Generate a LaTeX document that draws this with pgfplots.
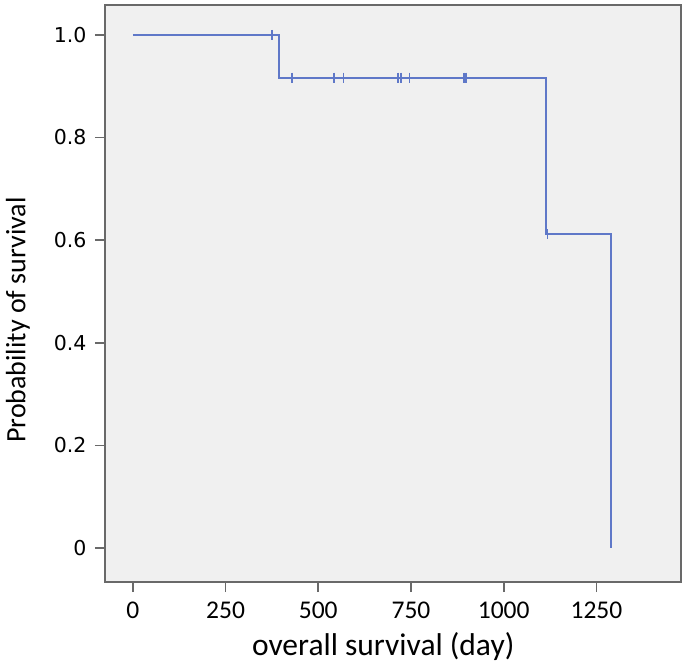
\documentclass[border=0pt]{standalone}
\usepackage{fontspec}
\setmainfont{Carlito}
\newfontfamily\dejavu{DejaVu Sans}
\usepackage{pgfplots}
\pgfplotsset{compat=1.18}
\definecolor{bg}{RGB}{240,240,240}
\definecolor{km}{RGB}{95,120,200}
\definecolor{frame}{RGB}{105,105,105}
\begin{document}
\begin{tikzpicture}
\begin{axis}[
  scale only axis,
  width=576pt, height=577pt,
  xmin=-75, xmax=1478,
  ymin=-0.066, ymax=1.058,
  axis background/.style={fill=bg},
  axis line style={frame, line width=1.6pt},
  xtick={0,250,500,750,1000,1250},
  xticklabels={0,250,500,750,1000,1250},
  ytick={0,0.2,0.4,0.6,0.8,1.0},
  yticklabels={0,0.2,0.4,0.6,0.8,1.0},
  xtick pos=bottom, ytick pos=left,
  tick align=outside,
  major tick length=10pt,
  tick style={frame, line width=1.6pt},
  x tick label style={font=\fontsize{25.5}{25.5}\selectfont, yshift=-6.5pt},
  y tick label style={font=\dejavu\fontsize{20.5}{20.5}\selectfont, xshift=-5pt},
  xlabel={overall survival (day)},
  ylabel={Probability of survival},
  xlabel style={font=\fontsize{31.5}{31.5}\selectfont, at={(axis description cs:0.483,-0.128)}, anchor=base, inner sep=0pt},
  ylabel style={font=\fontsize{28}{28}\selectfont, at={(axis description cs:-0.13,0.454)}, anchor=south, inner sep=0pt},
  clip=false,
]
\addplot[km, line width=2pt, const plot, mark=none] coordinates {
  (0,1) (393,0.9167) (1115,0.6111) (1290,0)
};
\addplot[km, only marks, mark=|, mark size=5pt, mark options={line width=1.8pt}] coordinates {
  (376,1)
  (430,0.9167) (543,0.9167) (568,0.9167) (714,0.9167) (723,0.9167) (746,0.9167) (892,0.9167) (899,0.9167)
  (1118,0.6111)
};
\end{axis}
\pgfresetboundingbox
\path ([shift={(-105pt,-82pt)}]current axis.south west) rectangle ([shift={(4pt,5pt)}]current axis.north east);
\end{tikzpicture}
\end{document}
